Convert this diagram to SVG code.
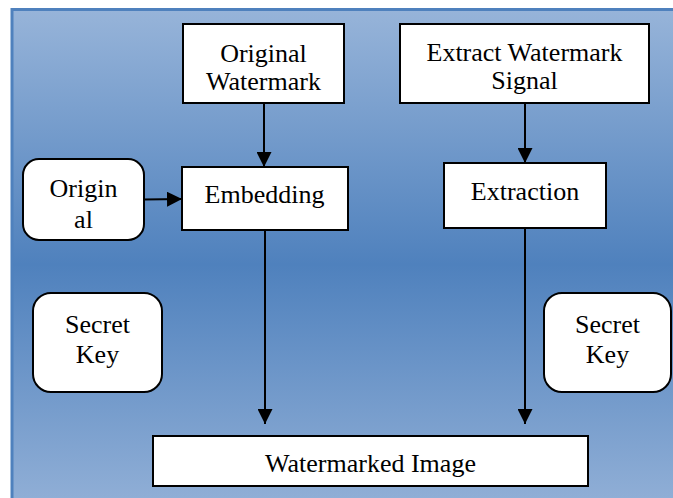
<svg xmlns="http://www.w3.org/2000/svg" width="673" height="498" viewBox="0 0 673 498">
<defs>
<linearGradient id="bg" x1="0" y1="0" x2="0" y2="1">
<stop offset="0" stop-color="#97B4D9"/>
<stop offset="0.5" stop-color="#4F81BD"/>
<stop offset="1" stop-color="#95B2D8"/>
</linearGradient>
<marker id="ah" markerWidth="15" markerHeight="15" refX="15" refY="7.5" orient="auto" markerUnits="userSpaceOnUse" viewBox="0 0 15 15">
<path d="M0,0 L15,7.5 L0,15 Z" fill="#000"/>
</marker>
</defs>
<style>
.box{fill:#fff;stroke:#000;stroke-width:2}
.c{stroke:#000;stroke-width:2;fill:none;marker-end:url(#ah)}
</style>
<rect x="12" y="9.5" width="680" height="510" fill="url(#bg)" stroke="#4F81BD" stroke-width="3"/>
<g id="original-watermark">
<rect class="box" x="183" y="24" width="161" height="79"/>
<text x="263.5" y="62" font-family="Times New Roman, serif" font-size="26" text-anchor="middle">Original</text>
<text x="263.5" y="90" font-family="Times New Roman, serif" font-size="26" text-anchor="middle">Watermark</text>
</g>
<g id="extract-watermark-signal">
<rect class="box" x="400" y="24" width="249" height="79"/>
<text x="524.5" y="61" font-family="Times New Roman, serif" font-size="26" text-anchor="middle">Extract Watermark</text>
<text x="524.5" y="89" font-family="Times New Roman, serif" font-size="26" text-anchor="middle">Signal</text>
</g>
<g id="original">
<rect class="box" x="23" y="159" width="121" height="81" rx="16"/>
<text x="83.5" y="197" font-family="Times New Roman, serif" font-size="26" text-anchor="middle">Origin</text>
<text x="83.5" y="228" font-family="Times New Roman, serif" font-size="26" text-anchor="middle">al</text>
</g>
<g id="embedding">
<rect class="box" x="182" y="167" width="166" height="63"/>
<text x="264.5" y="203" font-family="Times New Roman, serif" font-size="26" text-anchor="middle">Embedding</text>
</g>
<g id="extraction">
<rect class="box" x="444" y="163" width="162" height="65"/>
<text x="525" y="200" font-family="Times New Roman, serif" font-size="26" text-anchor="middle">Extraction</text>
</g>
<g id="secret-key-left">
<rect class="box" x="33" y="293" width="129" height="99" rx="18"/>
<text x="97.5" y="333" font-family="Times New Roman, serif" font-size="26" text-anchor="middle">Secret</text>
<text x="97.5" y="363" font-family="Times New Roman, serif" font-size="26" text-anchor="middle">Key</text>
</g>
<g id="secret-key-right">
<rect class="box" x="544" y="293" width="127" height="99" rx="18"/>
<text x="607.5" y="333" font-family="Times New Roman, serif" font-size="26" text-anchor="middle">Secret</text>
<text x="607.5" y="363" font-family="Times New Roman, serif" font-size="26" text-anchor="middle">Key</text>
</g>
<g id="watermarked-image">
<rect class="box" x="153" y="436" width="435" height="50"/>
<text x="370.5" y="472" font-family="Times New Roman, serif" font-size="26" text-anchor="middle">Watermarked Image</text>
</g>
<g id="connectors">
<line class="c" x1="264" y1="103" x2="264" y2="167"/>
<line class="c" x1="525" y1="103" x2="525" y2="163"/>
<line class="c" x1="144" y1="199.5" x2="182" y2="199"/>
<line class="c" x1="265" y1="230" x2="265" y2="424"/>
<line class="c" x1="525" y1="228" x2="525" y2="424"/>
</g>
</svg>
